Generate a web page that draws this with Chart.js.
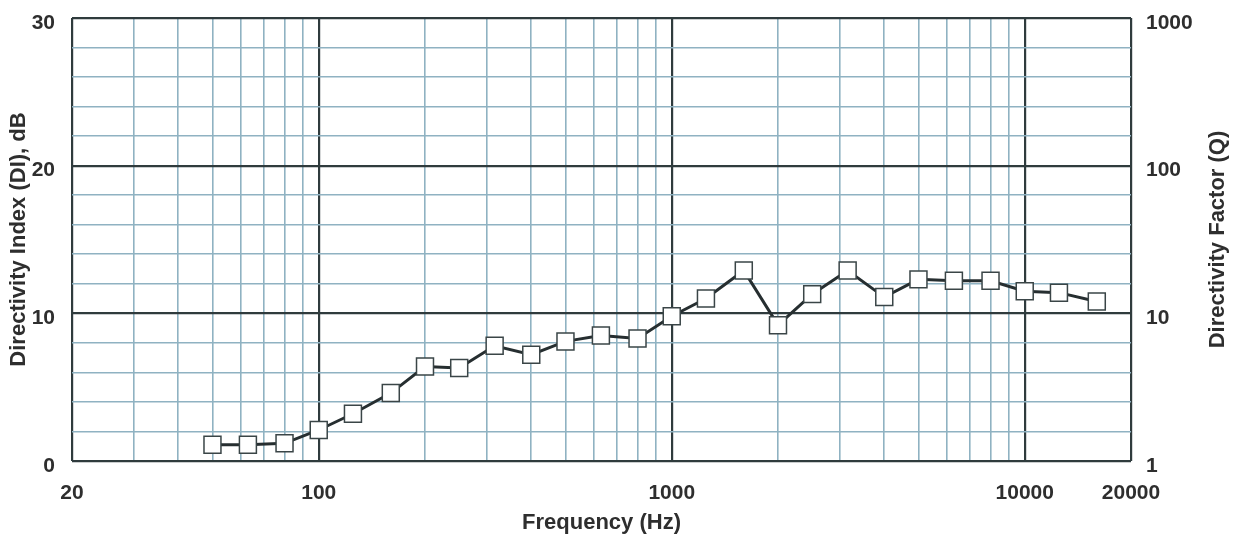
<!DOCTYPE html>
<html>
<head>
<meta charset="utf-8">
<script src="https://cdn.jsdelivr.net/npm/chart.js@4"></script>
<style>
  html, body { margin: 0; padding: 0; background: #fff; }
  #wrap { width: 1238px; height: 538px; }
</style>
</head>
<body>
<div id="wrap"><canvas id="myChart" width="1238" height="538"></canvas></div>
<script>
// 1/3 octave centre frequencies (Hz)
const FREQ = [50, 63, 80, 100, 125, 160, 200, 250, 315, 400, 500, 630, 800, 1000,
  1250, 1600, 2000, 2500, 3150, 4000, 5000, 6300, 8000, 10000, 12500, 16000];
// directivity index, dB
const DI = [1.1, 1.1, 1.2, 2.1, 3.2, 4.6, 6.4, 6.3, 7.8, 7.2, 8.1, 8.5, 8.3, 9.8,
  11.0, 12.9, 9.2, 11.3, 12.9, 11.1, 12.3, 12.2, 12.2, 11.5, 11.4, 10.8];

const X_LABELS = [20, 100, 1000, 10000, 20000];
const X_GRID = [20, 30, 40, 50, 60, 70, 80, 90, 100, 200, 300, 400, 500, 600, 700, 800, 900,
  1000, 2000, 3000, 4000, 5000, 6000, 7000, 8000, 9000, 10000, 20000];
const X_MAJOR = [20, 100, 1000, 10000, 20000];
const Y_LABELS = [0, 10, 20, 30];
const Q_LABELS = [1, 10, 100, 1000];
const Q_TITLE = "Directivity Factor (Q)";

const MAJOR_COLOR = "#2f3b3d";
const MINOR_COLOR = "#8fb2c2";
const TEXT_COLOR = "#2e2e2e";
const FONT = "'Liberation Sans', Arial, sans-serif";

// chart.js turns right-hand titles the other way, so draw this one by hand
const rightTitle = {
  id: "rightTitle",
  afterDraw(chart) {
    const c = chart.ctx;
    const a = chart.chartArea;
    c.save();
    c.translate(1218, (a.top + a.bottom) / 2);
    c.rotate(-Math.PI / 2);
    c.fillStyle = TEXT_COLOR;
    c.font = "bold 22px " + FONT;
    c.textAlign = "center";
    c.textBaseline = "middle";
    c.fillText(Q_TITLE, 0, 0);
    c.restore();
  },
};

function fixV(width) {
  return (s) => {
    s.width = width;
    s.paddingTop = 0;
    s.paddingBottom = 0;
  };
}

var ctx = document.getElementById("myChart").getContext("2d");
var myChart = new Chart(ctx, {
  type: "line",
  data: {
    datasets: [
      {
        label: "DI",
        data: FREQ.map((f, i) => ({ x: f, y: DI[i] })),
        borderColor: "#262e30",
        borderWidth: 3,
        pointStyle: "rect",
        pointRadius: 12,
        pointBorderWidth: 1.5,
        pointBorderColor: "#3a4547",
        pointBackgroundColor: "#ffffff",
        tension: 0,
      },
    ],
  },
  plugins: [rightTitle],
  options: {
    responsive: false,
    animation: false,
    devicePixelRatio: 1,
    layout: { padding: { top: 18, left: 0, right: 0, bottom: 0 } },
    plugins: { legend: { display: false }, tooltip: { enabled: false } },
    scales: {
      x: {
        type: "logarithmic",
        min: 20,
        max: 20000,
        afterBuildTicks: (s) => { s.ticks = X_GRID.map((v) => ({ value: v })); },
        afterFit: (s) => {
          s.height = 77;
          s.paddingLeft = 0;
          s.paddingRight = 0;
        },
        border: { display: false },
        grid: {
          drawTicks: false,
          color: (c) => (X_MAJOR.includes(c.tick.value) ? MAJOR_COLOR : MINOR_COLOR),
          lineWidth: (c) => (X_MAJOR.includes(c.tick.value) ? 2.2 : 1.6),
        },
        ticks: {
          autoSkip: false,
          maxRotation: 0,
          padding: 20,
          color: TEXT_COLOR,
          font: { family: FONT, size: 21, weight: "bold" },
          callback: (v) => (X_LABELS.includes(v) ? String(v) : ""),
        },
        title: {
          display: true,
          text: "Frequency (Hz)",
          color: TEXT_COLOR,
          font: { family: FONT, size: 22, weight: "bold" },
          padding: { top: 0, bottom: 2 },
        },
      },
      y: {
        type: "linear",
        position: "left",
        min: 0,
        max: 30,
        afterBuildTicks: (s) => {
          const t = [];
          for (let v = 0; v <= 30; v += 2) t.push({ value: v });
          s.ticks = t;
        },
        afterFit: fixV(72),
        border: { display: false },
        grid: {
          drawTicks: false,
          color: (c) => (Y_LABELS.includes(c.tick.value) ? MAJOR_COLOR : MINOR_COLOR),
          lineWidth: (c) => (Y_LABELS.includes(c.tick.value) ? 2.2 : 1.6),
        },
        ticks: {
          autoSkip: false,
          padding: 17,
          labelOffset: 5,
          color: TEXT_COLOR,
          font: { family: FONT, size: 21, weight: "bold" },
          callback: (v) => (Y_LABELS.includes(v) ? String(v) : ""),
        },
        title: {
          display: true,
          text: "Directivity Index (DI), dB",
          color: TEXT_COLOR,
          font: { family: FONT, size: 22, weight: "bold" },
          padding: { top: 6, bottom: 0 },
        },
      },
      y2: {
        type: "logarithmic",
        position: "right",
        min: 1,
        max: 1000,
        afterBuildTicks: (s) => { s.ticks = Q_LABELS.map((v) => ({ value: v })); },
        afterFit: fixV(107),
        border: { display: false },
        grid: { display: false, drawTicks: false },
        ticks: {
          autoSkip: false,
          padding: 15,
          labelOffset: 5,
          color: TEXT_COLOR,
          font: { family: FONT, size: 21, weight: "bold" },
          callback: (v) => String(v),
        },
      },
    },
  },
});
</script>
</body>
</html>
